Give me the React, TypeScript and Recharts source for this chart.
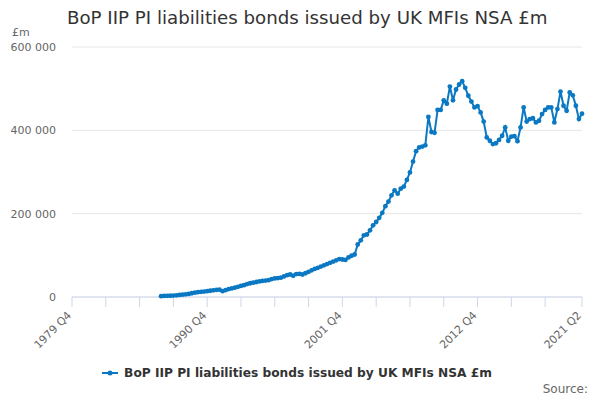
import React from 'react';
import { LineChart, Line, XAxis, YAxis, CartesianGrid, Legend } from 'recharts';

const TITLE = 'BoP IIP PI liabilities bonds issued by UK MFIs NSA £m';
const LINE_COLOR = '#0a78c2';
const FONT = '"DejaVu Sans", Verdana, sans-serif';

// quarterly categories, 1979 Q4 .. 2021 Q2
const QUARTERS: string[] = [];
for (let y = 1979, q = 4; y < 2021 || (y === 2021 && q <= 2); ) {
  QUARTERS.push(`${y} Q${q}`);
  q++;
  if (q > 4) {
    q = 1;
    y++;
  }
}

const FIRST_QUARTER = '1987 Q1';

// £m, from 1987 Q1 onwards
const VALUES = [
  2000, 2500, 2800, 3000, 3500, 4000, 5000, 5500, 6500, 7500,
  9000, 10500, 11500, 12500, 13000, 14000, 15000, 16000, 17000, 17500,
  14000, 16500, 19000, 20500, 22500, 24500, 26500, 28500, 31000, 33000,
  34500, 36000, 37500, 38500, 39500, 40500, 43000, 44500, 45500, 46500,
  49500, 52500, 54000, 51000, 55000, 55500, 54000, 57000, 60500, 64000,
  67500, 70000, 73000, 76000, 79000, 82000, 85000, 88000, 91000, 90000,
  89000, 95000, 99000, 102000, 126000, 136000, 148000, 150000, 160000, 172000,
  180000, 190000, 202000, 218000, 229000, 244000, 256000, 248000, 260000, 265000,
  281000, 299000, 325000, 350000, 359000, 361000, 364000, 432000, 396000, 394000,
  449000, 449000, 472000, 464000, 505000, 472000, 498000, 510000, 518000, 502000,
  483000, 469000, 455000, 458000, 443000, 421000, 383000, 375000, 367000, 369000,
  377000, 387000, 407000, 375000, 385000, 386000, 374000, 407000, 455000, 421000,
  427000, 429000, 419000, 423000, 439000, 449000, 455000, 455000, 419000, 451000,
  493000, 459000, 447000, 491000, 484000, 459000, 427000, 440000,
];

const LABELLED_QUARTERS = ['1979 Q4', '1990 Q4', '2001 Q4', '2012 Q4', '2021 Q2'];
// minor ticks every 11 quarters plus the last quarter
const X_TICKS = QUARTERS.filter((_, i) => i % 11 === 0 && i < QUARTERS.length - 2).concat(
  QUARTERS[QUARTERS.length - 1]
);
const Y_TICKS = [0, 200000, 400000, 600000];

const startIdx = QUARTERS.indexOf(FIRST_QUARTER);
const data = QUARTERS.map((quarter, i) => ({
  quarter,
  value: i >= startIdx ? VALUES[i - startIdx] ?? null : null,
}));

const formatThousands = (v: number) => v.toLocaleString('en-US').replace(/,/g, ' ');

const QuarterTick = (props: any) => {
  const { x, y, payload } = props;
  if (!LABELLED_QUARTERS.includes(payload.value)) return <g />;
  return (
    <text
      x={x}
      y={y + 7}
      textAnchor="end"
      transform={`rotate(-45, ${x}, ${y + 7})`}
      fill="#666"
      fontSize={11}
      fontFamily={FONT}
    >
      {payload.value}
    </text>
  );
};

const LegendContent = () => (
  <div
    style={{
      display: 'flex',
      justifyContent: 'center',
      alignItems: 'center',
      height: 20,
      paddingLeft: 12,
      fontFamily: FONT,
      fontSize: 12.2,
      fontWeight: 'bold',
      color: '#333',
    }}
  >
    <svg width={16} height={10} style={{ marginRight: 6 }}>
      <line x1={0} y1={5} x2={16} y2={5} stroke={LINE_COLOR} strokeWidth={2} />
      <circle cx={8} cy={5} r={2.5} fill={LINE_COLOR} />
    </svg>
    <span>{TITLE}</span>
  </div>
);

export default function App() {
  return (
    <div style={{ position: 'absolute', left: 0, top: 0, width: 600, height: 400, background: '#fff' }}>
      <div
        style={{
          position: 'absolute',
          left: 67,
          top: 7,
          fontFamily: FONT,
          fontSize: 18.2,
          color: '#333',
          whiteSpace: 'nowrap',
          lineHeight: '22px',
        }}
      >
        {TITLE}
      </div>
      <div style={{ position: 'absolute', left: 12, top: 26, fontFamily: FONT, fontSize: 11, color: '#666' }}>£m</div>
      <LineChart width={600} height={400} data={data} margin={{ top: 47, right: 18, left: 0, bottom: 0 }}>
        <CartesianGrid vertical={false} stroke="#e6e6e6" />
        <XAxis
          dataKey="quarter"
          ticks={X_TICKS}
          interval={0}
          tickSize={10}
          height={83}
          axisLine={{ stroke: '#ccd6eb' }}
          tickLine={{ stroke: '#ccd6eb' }}
          tick={<QuarterTick />}
        />
        <YAxis
          width={72}
          domain={[0, 600000]}
          ticks={Y_TICKS}
          axisLine={false}
          tickLine={false}
          tickMargin={10}
          tickFormatter={formatThousands}
          tick={{ fill: '#666', fontSize: 11, fontFamily: FONT }}
        />
        <Legend verticalAlign="bottom" content={<LegendContent />} wrapperStyle={{ top: 363, height: 20 }} />
        <Line
          type="linear"
          dataKey="value"
          name={TITLE}
          stroke={LINE_COLOR}
          strokeWidth={2}
          dot={{ r: 2.4, fill: LINE_COLOR, stroke: LINE_COLOR, strokeWidth: 0 }}
          activeDot={false}
          isAnimationActive={false}
        />
      </LineChart>
      <div
        style={{
          position: 'absolute',
          right: 12,
          top: 382,
          fontFamily: FONT,
          fontSize: 12,
          color: '#666',
        }}
      >
        Source:
      </div>
    </div>
  );
}
